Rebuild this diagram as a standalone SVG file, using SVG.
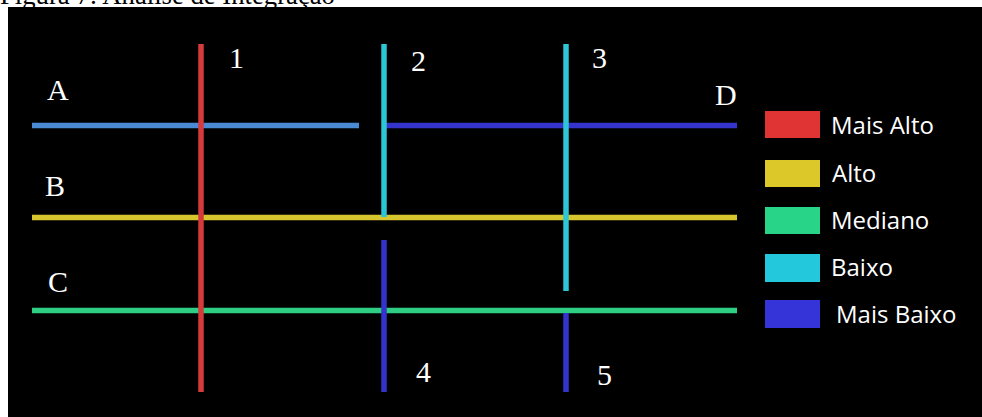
<svg xmlns="http://www.w3.org/2000/svg" width="982" height="417" viewBox="0 0 982 417">
<style>
.cap{font-family:"Liberation Serif","Times New Roman",serif;font-size:26.7px;fill:#000}
.lbl{font-family:"Liberation Serif","Times New Roman",serif;font-size:30px;fill:#fff}
.leg{font-family:"Open Sans","Noto Sans",sans-serif;font-size:24px;fill:#fff}
.ln{stroke-width:5.5;stroke-linecap:butt;fill:none}
.red{stroke:#d63a3a}.cyan{stroke:#2ec6d6}.lblue{stroke:#4a8ad4}.dblue{stroke:#3434cc}.yel{stroke:#d8c62e}.grn{stroke:#2ecf84}
</style>
<rect x="0" y="0" width="982" height="417" fill="#fff"/>
<text class="cap" x="0" y="3.5">Figura 7: Análise de Integração</text>
<rect x="8" y="7" width="974" height="410" fill="#000"/>
<g id="connectors">
<line class="ln lblue" x1="32" y1="125.5" x2="359" y2="125.5"/>
<line class="ln dblue" x1="384" y1="125.5" x2="737" y2="125.5"/>
<line class="ln yel" x1="32" y1="217.5" x2="737" y2="217.5"/>
<line class="ln grn" x1="32" y1="310.5" x2="737" y2="310.5"/>
<line class="ln red" x1="201" y1="44" x2="201" y2="392"/>
<line class="ln cyan" x1="384" y1="44" x2="384" y2="217"/>
<line class="ln cyan" x1="566" y1="44" x2="566" y2="291"/>
<line class="ln dblue" x1="384" y1="240" x2="384" y2="392"/>
<line class="ln dblue" x1="566" y1="313" x2="566" y2="392"/>
</g>
<g id="labels">
<text class="lbl" x="229" y="68">1</text>
<text class="lbl" x="411" y="71">2</text>
<text class="lbl" x="592" y="68">3</text>
<text class="lbl" x="416" y="382">4</text>
<text class="lbl" x="597" y="385">5</text>
<text class="lbl" x="47" y="100">A</text>
<text class="lbl" x="45" y="196">B</text>
<text class="lbl" x="48" y="292">C</text>
<text class="lbl" x="715" y="105">D</text>
</g>
<g id="legend">
<g id="leg-mais-alto"><rect x="765" y="111" width="55" height="27" fill="#e03434"/><text class="leg" x="831" y="134">Mais Alto</text></g>
<g id="leg-alto"><rect x="765" y="160" width="55" height="27" fill="#dcc828"/><text class="leg" x="832" y="182">Alto</text></g>
<g id="leg-mediano"><rect x="765" y="207" width="55" height="27" fill="#28d488"/><text class="leg" x="831" y="229">Mediano</text></g>
<g id="leg-baixo"><rect x="765" y="254" width="55" height="28" fill="#24c8dc"/><text class="leg" x="831" y="276">Baixo</text></g>
<g id="leg-mais-baixo"><rect x="765" y="300" width="55" height="28" fill="#3434d8"/><text class="leg" x="836" y="323">Mais Baixo</text></g>
</g>
</svg>
